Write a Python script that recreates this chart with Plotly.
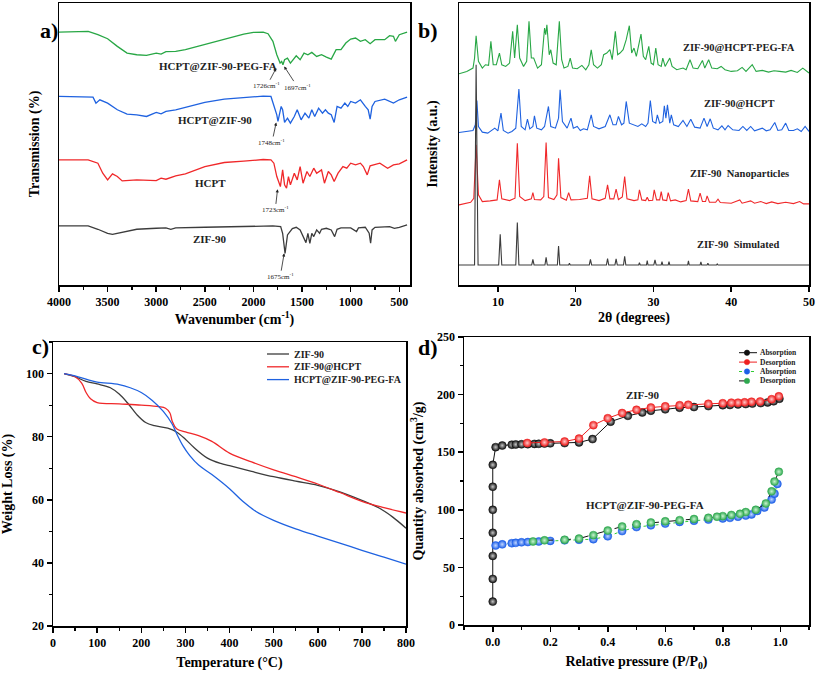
import plotly.graph_objects as go

FONT = "Liberation Serif, Times New Roman, serif"

# ---------------- Panel a: FTIR (wavenumber, stacked transmission a.u.) ----------------
ftir_green_x = [4000, 3700, 3600, 3500, 3400, 3300, 3200, 3100, 3000, 2950, 2900, 2800, 2700, 2500, 2300, 2100,
                2000, 1900, 1850, 1800, 1760, 1726, 1710, 1697, 1680, 1650, 1620, 1600, 1560, 1520, 1480, 1440,
                1400, 1350, 1300, 1250, 1200, 1150, 1100, 1050, 1000, 950, 900, 850, 800, 750, 700, 650, 600,
                560, 540, 500, 420]
ftir_green_y = [75.8, 76.0, 75.0, 73.8, 71.5, 69.5, 69.0, 68.8, 69.5, 69.2, 69.9, 70.0, 70.5, 72.0, 73.7, 75.2,
                75.7, 75.8, 75.3, 73.0, 69.0, 66.5, 67.0, 66.0, 67.5, 68.0, 66.5, 67.3, 68.7, 67.5, 69.5, 69.0,
                69.7, 68.5, 69.0, 68.3, 67.7, 70.5, 70.5, 72.5, 73.7, 74.0, 73.0, 73.5, 72.3, 73.5, 73.5, 73.5,
                74.7, 74.5, 73.0, 75.0, 75.8]
ftir_blue_x = [4000, 3700, 3650, 3620, 3580, 3500, 3400, 3300, 3200, 3100, 3000, 2950, 2900, 2800, 2700, 2500,
               2300, 2100, 1900, 1820, 1790, 1760, 1748, 1730, 1715, 1700, 1680, 1650, 1620, 1580, 1550, 1510,
               1470, 1430, 1400, 1370, 1330, 1290, 1260, 1230, 1200, 1170, 1140, 1100, 1060, 1030, 1000, 950,
               900, 850, 820, 800, 780, 750, 650, 560, 500, 420]
ftir_blue_y = [56.5, 56.5, 56.3, 54.5, 55.5, 54.5, 52.5, 51.2, 51.0, 50.5, 51.7, 51.3, 52.0, 52.5, 53.3, 54.7,
               55.7, 56.2, 56.6, 56.5, 53.5, 51.0, 49.0, 51.5, 53.5, 52.5, 48.7, 50.0, 48.5, 50.5, 52.5, 49.5,
               51.5, 50.0, 52.5, 50.5, 53.0, 51.5, 52.5, 51.5, 51.0, 48.7, 53.5, 53.0, 54.5, 53.5, 55.0, 54.5,
               55.5, 53.5, 52.5, 49.7, 53.5, 55.0, 55.7, 54.5, 55.5, 56.3]
ftir_red_x = [4000, 3700, 3600, 3550, 3500, 3450, 3400, 3350, 3200, 3000, 2950, 2900, 2800, 2700, 2500, 2300,
              2100, 1900, 1820, 1790, 1760, 1740, 1723, 1700, 1680, 1660, 1640, 1620, 1580, 1550, 1520, 1490,
              1450, 1420, 1380, 1350, 1300, 1270, 1230, 1200, 1170, 1130, 1080, 1040, 1000, 950, 900, 870,
              830, 800, 750, 700, 620, 560, 500, 420]
ftir_red_y = [37.5, 37.5, 36.5, 33.5, 31.5, 33.3, 32.5, 31.2, 31.5, 31.3, 32.0, 31.7, 32.7, 33.3, 35.5, 36.7,
              37.1, 37.6, 37.5, 36.5, 32.5, 30.5, 29.5, 34.5, 30.0, 29.0, 32.5, 30.0, 33.5, 31.5, 35.5, 30.5,
              34.0, 32.5, 35.0, 33.5, 34.5, 30.5, 34.0, 33.0, 31.0, 33.5, 35.5, 35.0, 36.5, 36.0, 36.5, 35.5,
              33.0, 35.7, 36.0, 36.5, 35.0, 36.0, 36.3, 37.5]
ftir_black_x = [4000, 3700, 3600, 3500, 3450, 3300, 3200, 3000, 2900, 2850, 2800, 2500, 2000, 1800, 1720, 1700,
                1675, 1650, 1600, 1560, 1520, 1480, 1460, 1440, 1420, 1400, 1380, 1350, 1320, 1300, 1250, 1200,
                1165, 1140, 1100, 1000, 960, 940, 920, 850, 810, 795, 780, 750, 600, 550, 500, 420]
ftir_black_y = [17.7, 17.7, 16.7, 15.5, 15.2, 16.0, 16.7, 17.0, 17.1, 16.7, 17.1, 17.3, 17.6, 17.7, 17.5, 15.5,
                9.5, 15.0, 16.9, 17.3, 16.5, 14.0, 12.7, 15.5, 12.5, 15.5, 14.5, 16.5, 15.5, 16.7, 17.0, 16.5,
                14.5, 16.7, 17.1, 17.1, 16.5, 16.0, 17.1, 17.3, 15.5, 12.5, 16.5, 17.3, 17.5, 17.0, 17.3, 18.0]
ftir_names = ["HCPT@ZIF-90-PEG-FA", "HCPT@ZIF-90", "HCPT", "ZIF-90"]
ftir_label_x = [2360, 2394, 2445, 2452]
ftir_label_y = [65.7, 49.3, 30.5, 13.8]
ftir_peaks = ["1726cm<sup>-1</sup>", "1697cm<sup>-1</sup>", "1748cm<sup>-1</sup>", "1723cm<sup>-1</sup>", "1675cm<sup>-1</sup>"]
ftir_peak_tip_x = [1766, 1684, 1766, 1752, 1684]
ftir_peak_tip_y = [65.0, 65.5, 48.7, 28.7, 9.5]
ftir_peak_txt_x = [1862, 1546, 1810, 1776, 1725]
ftir_peak_txt_y = [59.7, 59.3, 42.7, 22.5, 2.5]
ftir_ticks = [4000, 3500, 3000, 2500, 2000, 1500, 1000, 500]

# ---------------- Panel b: XRD (2theta, stacked intensity) ----------------
xrd_green_x = [5.0, 6.0, 6.8, 7.0, 7.2, 7.5, 8.0, 8.4, 8.8, 9.1, 9.4, 9.8, 10.2, 10.5, 11.0, 11.5, 11.9, 12.15,
               12.5, 12.8, 13.3, 13.7, 14.0, 14.3, 14.6, 15.1, 15.6, 16.0, 16.15, 16.3, 16.6, 16.8, 17.1, 17.5,
               17.9, 18.2, 18.5, 19.0, 19.3, 19.6, 20.2, 20.8, 21.3, 21.7, 22.0, 22.3, 22.8, 23.3, 23.6, 24.0,
               24.4, 24.7, 25.1, 25.4, 25.7, 26.1, 26.5, 26.9, 27.2, 27.5, 27.8, 28.4, 28.7, 29.0, 29.4, 29.7,
               30.0, 30.3, 30.6, 31.0, 31.2, 31.5, 32.1, 32.4, 33.0, 33.8, 34.2, 34.7, 35.1, 35.7, 36.3, 36.6,
               37.1, 37.5, 38.2, 38.7, 39.2, 40.0, 40.8, 41.4, 41.9, 42.7, 43.2, 44.0, 44.8, 45.5, 46.2, 47.0,
               47.7, 48.5, 49.2, 49.6, 50.0]
xrd_green_y = [63.3, 64.0, 65.0, 68.0, 74.7, 67.0, 65.0, 66.0, 65.8, 73.0, 66.0, 66.0, 69.5, 66.0, 65.5, 66.5,
               76.0, 68.0, 78.0, 68.0, 65.5, 67.0, 79.0, 68.0, 68.0, 65.0, 66.0, 77.0, 75.0, 78.0, 69.0, 70.5,
               66.5, 66.0, 79.0, 67.5, 65.0, 65.5, 68.0, 65.0, 64.8, 65.8, 64.5, 66.0, 70.5, 66.0, 65.0, 66.0,
               69.0, 69.5, 70.5, 67.5, 76.0, 69.0, 69.5, 70.5, 73.5, 77.7, 69.5, 71.0, 68.5, 75.2, 68.5, 67.5,
               71.5, 66.5, 66.0, 71.0, 66.0, 65.5, 68.0, 65.5, 68.0, 65.5, 64.5, 65.0, 64.5, 67.5, 65.0, 64.8,
               67.3, 65.0, 67.5, 65.0, 64.8, 65.5, 64.5, 64.0, 64.2, 65.2, 64.0, 66.0, 64.0, 64.3, 63.8, 64.2,
               64.0, 63.8, 64.3, 63.7, 65.0, 64.2, 63.5]
xrd_blue_x = [5.0, 6.0, 6.8, 7.1, 7.3, 7.5, 8.0, 8.7, 9.2, 9.6, 10.0, 10.4, 10.7, 11.3, 11.8, 12.3, 12.7, 13.0,
              13.5, 13.8, 14.1, 14.5, 14.7, 15.0, 15.6, 16.0, 16.5, 16.8, 17.4, 17.8, 18.0, 18.3, 18.9, 19.4,
              19.7, 20.2, 20.6, 21.0, 21.5, 22.0, 22.3, 23.0, 23.8, 24.4, 24.8, 25.2, 25.5, 25.9, 26.2, 26.5,
              26.9, 27.5, 28.0, 28.5, 29.0, 29.3, 29.6, 29.9, 30.3, 30.5, 30.8, 31.2, 31.4, 31.6, 31.8, 32.1,
              32.3, 32.6, 33.2, 33.8, 34.3, 34.8, 35.3, 36.0, 36.5, 36.9, 37.3, 37.7, 38.3, 38.8, 39.2, 39.6,
              40.2, 41.0, 41.5, 42.0, 42.5, 43.0, 44.0, 44.5, 45.0, 45.6, 46.0, 46.5, 47.0, 47.4, 48.0, 48.5,
              49.0, 49.5, 50.0]
xrd_blue_y = [45.7, 46.0, 46.3, 48.0, 55.3, 47.5, 45.8, 45.5, 46.3, 47.0, 46.2, 51.5, 46.3, 45.5, 46.0, 47.0,
              58.7, 47.5, 46.5, 49.7, 46.8, 47.5, 50.7, 47.0, 46.5, 47.5, 53.5, 47.5, 47.0, 50.0, 58.5, 49.0,
              47.0, 50.0, 47.0, 47.5, 46.3, 46.8, 46.5, 51.0, 47.5, 46.8, 47.5, 51.0, 48.0, 48.0, 50.5, 48.0,
              48.5, 55.0, 48.5, 48.0, 47.5, 48.3, 47.5, 48.5, 55.3, 49.0, 48.5, 51.0, 48.5, 49.0, 53.7, 50.0,
              54.0, 48.5, 51.0, 48.0, 47.5, 49.3, 47.5, 49.7, 47.3, 47.0, 50.0, 47.5, 49.8, 47.0, 46.5, 47.7,
              46.5, 47.8, 46.5, 46.3, 47.5, 46.3, 47.5, 46.2, 47.0, 46.2, 46.5, 48.7, 46.3, 46.5, 48.5, 46.3,
              46.3, 46.8, 46.0, 47.5, 46.0]
xrd_red_x = [5.0, 6.5, 6.9, 7.2, 7.5, 8.0, 9.0, 9.9, 10.2, 10.5, 11.5, 12.2, 12.5, 12.8, 13.5, 14.3, 14.5, 14.7,
             15.5, 15.9, 16.2, 16.5, 17.2, 17.6, 17.8, 18.1, 18.8, 19.1, 19.4, 20.5, 21.5, 21.8, 22.1, 23.0,
             23.8, 24.1, 24.4, 24.9, 25.2, 25.5, 26.0, 26.3, 26.6, 27.5, 28.0, 28.2, 28.5, 29.0, 29.2, 29.4,
             29.9, 30.1, 30.4, 30.8, 31.0, 31.2, 31.7, 31.9, 32.2, 32.8, 33.5, 34.2, 34.5, 34.8, 35.7, 36.0,
             36.3, 36.7, 36.9, 37.2, 38.0, 38.3, 38.6, 40.0, 41.1, 41.4, 42.5, 43.0, 43.8, 44.5, 45.2, 46.0,
             47.0, 48.0, 48.8, 49.3, 50.0]
xrd_red_y = [24.0, 24.8, 26.0, 42.0, 27.0, 25.0, 25.2, 25.5, 31.5, 25.8, 25.3, 26.0, 42.5, 26.5, 25.3, 25.8,
             27.7, 25.6, 25.5, 26.5, 42.7, 26.2, 25.6, 27.0, 38.0, 26.2, 25.4, 27.7, 25.5, 25.6, 26.0, 32.7,
             25.8, 25.3, 26.0, 30.0, 25.8, 25.8, 28.7, 25.6, 26.4, 32.5, 25.8, 25.3, 25.5, 28.5, 25.5, 25.3,
             26.3, 25.3, 25.4, 28.5, 25.5, 25.5, 28.0, 25.5, 25.3, 27.7, 25.2, 25.5, 24.9, 25.3, 28.7, 25.2,
             25.0, 27.5, 25.0, 25.0, 26.7, 24.8, 24.8, 25.7, 24.7, 24.5, 25.5, 24.5, 25.2, 24.5, 25.0, 24.4,
             24.9, 24.4, 24.8, 24.4, 25.0, 24.3, 24.3]
xrd_sim_x = [5.0, 7.0, 7.2, 7.45, 10.1, 10.3, 10.5, 12.3, 12.5, 12.7, 14.35, 14.5, 14.65, 16.05, 16.2, 16.35,
             17.65, 17.8, 17.95, 19.1, 19.2, 19.3, 21.75, 21.9, 22.05, 23.95, 24.1, 24.25, 25.05, 25.2, 25.35,
             26.15, 26.3, 26.45, 28.1, 28.2, 28.3, 29.1, 29.2, 29.3, 30.05, 30.2, 30.35, 31.0, 31.1, 31.2,
             31.9, 32.0, 32.1, 34.4, 34.5, 34.6, 36.0, 36.1, 36.2, 36.9, 37.0, 37.1, 38.1, 38.2, 38.3, 50.0]
xrd_sim_y = [6.0, 6.0, 66.0, 6.0, 6.0, 15.2, 6.0, 6.0, 18.7, 6.0, 6.0, 7.7, 6.0, 6.0, 8.3, 6.0,
             6.0, 11.7, 6.0, 6.0, 6.5, 6.0, 6.0, 7.7, 6.0, 6.0, 7.9, 6.0, 6.0, 7.8, 6.0,
             6.0, 8.6, 6.0, 6.0, 6.7, 6.0, 6.0, 7.3, 6.0, 6.0, 7.5, 6.0, 6.0, 7.0, 6.0,
             6.0, 7.0, 6.0, 6.0, 7.2, 6.0, 6.0, 6.9, 6.0, 6.0, 6.5, 6.0, 6.0, 6.3, 6.0, 6.0]
xrd_names = ["ZIF-90@HCPT-PEG-FA", "ZIF-90@HCPT", "ZIF-90  Nanoparticles", "ZIF-90  Simulated"]
xrd_label_x = [41.0, 41.0, 41.0, 40.9]
xrd_label_y = [71.2, 54.4, 33.5, 12.2]

# ---------------- Panel c: TGA ----------------
tga_zif_t = [25, 50, 75, 100, 130, 150, 170, 190, 210, 230, 260, 280, 300, 320, 350, 380, 400, 450, 500, 550,
             600, 650, 700, 740, 770, 800]
tga_zif_w = [100, 99.0, 97.5, 96.7, 95.5, 93.5, 90.5, 87.0, 84.5, 83.5, 82.7, 81.5, 79.2, 76.5, 73.2, 71.5,
             70.8, 69.0, 67.3, 65.9, 64.6, 62.5, 59.8, 57.3, 54.5, 51.0]
tga_hcpt_t = [25, 50, 65, 75, 85, 100, 150, 200, 240, 255, 265, 270, 280, 300, 330, 360, 400, 450, 500, 550,
              600, 650, 700, 750, 800]
tga_hcpt_w = [100, 99.0, 97.0, 94.0, 92.0, 90.8, 90.4, 90.0, 89.5, 89.0, 87.5, 85.0, 82.5, 81.5, 80.3, 78.5,
              74.8, 72.0, 69.5, 67.3, 65.0, 62.3, 59.5, 57.5, 55.8]
tga_peg_t = [25, 50, 80, 100, 150, 175, 200, 225, 250, 270, 280, 295, 310, 330, 360, 400, 430, 460, 500, 550,
             600, 650, 700, 750, 800]
tga_peg_w = [100, 99.3, 98.0, 97.3, 96.5, 95.5, 94.0, 91.5, 88.0, 84.0, 81.0, 77.0, 74.0, 71.0, 68.0, 63.5,
             59.5, 56.3, 53.5, 50.8, 48.5, 46.3, 44.0, 41.8, 39.6]
tga_names = ["ZIF-90", "ZIF-90@HCPT", "HCPT@ZIF-90-PEG-FA"]

# ---------------- Panel d: N2 isotherms ----------------
bet_zif_ads_p = [0.0, 0.0, 0.0, 0.0, 0.0, 0.0, 0.0, 0.01, 0.033, 0.066, 0.08, 0.1, 0.122, 0.145, 0.16, 0.18,
                 0.2, 0.25, 0.3, 0.347, 0.41, 0.47, 0.52, 0.55, 0.6, 0.65, 0.7, 0.75, 0.8, 0.825, 0.853, 0.88,
                 0.903, 0.932, 0.956, 0.977, 0.997]
bet_zif_ads_q = [20.3, 40.0, 60.0, 80.0, 100.0, 120.0, 139.0, 154.4, 155.8, 156.5, 156.7, 156.9, 157.0, 157.2,
                 157.3, 157.5, 157.7, 157.9, 158.5, 161.4, 176.5, 181.6, 184.5, 186.0, 187.2, 188.6, 189.2,
                 190.0, 190.8, 191.0, 191.5, 191.8, 192.2, 192.6, 193.2, 194.2, 196.4]
bet_zif_des_p = [0.995, 0.97, 0.93, 0.9, 0.876, 0.853, 0.83, 0.8, 0.75, 0.68, 0.65, 0.6, 0.55, 0.5, 0.45, 0.4,
                 0.35, 0.3, 0.25, 0.18, 0.12]
bet_zif_des_q = [198.5, 196.0, 194.0, 193.8, 193.3, 193.0, 193.0, 192.5, 192.0, 191.2, 190.8, 189.8, 188.8,
                 186.8, 184.0, 179.5, 173.5, 161.8, 159.3, 158.5, 158.0]
bet_peg_ads_p = [0.01, 0.033, 0.066, 0.08, 0.1, 0.122, 0.16, 0.2, 0.25, 0.3, 0.35, 0.4, 0.45, 0.5, 0.55, 0.6,
                 0.65, 0.7, 0.75, 0.8, 0.825, 0.853, 0.88, 0.9, 0.92, 0.945, 0.97, 0.98, 0.99]
bet_peg_ads_q = [69.0, 70.0, 71.0, 71.3, 71.8, 72.0, 72.5, 73.0, 73.5, 74.0, 74.5, 77.0, 81.5, 85.0, 86.5,
                 88.0, 89.5, 90.5, 91.5, 92.5, 93.0, 94.0, 95.0, 96.0, 99.0, 102.0, 109.0, 114.0, 122.5]
bet_peg_des_p = [0.995, 0.98, 0.97, 0.95, 0.915, 0.88, 0.86, 0.83, 0.8, 0.78, 0.75, 0.7, 0.65, 0.6, 0.55, 0.5,
                 0.45, 0.4, 0.35, 0.3, 0.25, 0.18, 0.14]
bet_peg_des_q = [133.0, 124.5, 116.0, 105.5, 100.0, 98.0, 96.5, 95.5, 94.5, 94.0, 93.0, 92.0, 91.0, 90.0,
                 89.0, 87.5, 85.5, 82.0, 78.0, 75.0, 74.0, 73.5, 72.5]
bet_names = ["Absorption", "Desorption", "Absorption", "Desorption"]
bet_labels = ["ZIF-90", "HCPT@ZIF-90-PEG-FA"]
bet_label_p = [0.524, 0.53]
bet_label_q = [200, 104]

# ---------------- colours ----------------
C_GRAY = "#3c3c3c"
C_RED = "#f0282a"
C_BLUE = "#1f62e0"
C_GREEN = "#28a745"

fig = go.Figure()

# Panel a
for xs, ys, c in [(ftir_green_x, ftir_green_y, C_GREEN), (ftir_blue_x, ftir_blue_y, C_BLUE),
                  (ftir_red_x, ftir_red_y, C_RED), (ftir_black_x, ftir_black_y, C_GRAY)]:
    fig.add_trace(go.Scatter(x=xs, y=ys, mode="lines", line=dict(color=c, width=1.3),
                             showlegend=False, xaxis="x", yaxis="y"))
# Panel b
for xs, ys, c in [(xrd_green_x, xrd_green_y, C_GREEN), (xrd_blue_x, xrd_blue_y, C_BLUE),
                  (xrd_red_x, xrd_red_y, C_RED), (xrd_sim_x, xrd_sim_y, C_GRAY)]:
    fig.add_trace(go.Scatter(x=xs, y=ys, mode="lines", line=dict(color=c, width=1.1),
                             showlegend=False, xaxis="x2", yaxis="y2"))
# Panel c
tga_colors = [C_GRAY, C_RED, C_BLUE]
for xs, ys, c in zip([tga_zif_t, tga_hcpt_t, tga_peg_t], [tga_zif_w, tga_hcpt_w, tga_peg_w], tga_colors):
    fig.add_trace(go.Scatter(x=xs, y=ys, mode="lines", line=dict(color=c, width=1.3, shape="spline"),
                             showlegend=False, xaxis="x3", yaxis="y3"))
# Panel d
bet_marker = ["#111111", "#ee2020", "#1d5fe8", "#2fa84f"]
bet_grad = ["#c8c8c8", "#ffc8c8", "#c0d6ff", "#c8f4d0"]
bet_line = ["#111111", "#ee2020", "#33cc33", "#111111"]
bet_dash = ["solid", "solid", "dot", "dash"]
for xs, ys, mc, gc, lc, dash in zip([bet_zif_ads_p, bet_zif_des_p, bet_peg_ads_p, bet_peg_des_p],
                                    [bet_zif_ads_q, bet_zif_des_q, bet_peg_ads_q, bet_peg_des_q],
                                    bet_marker, bet_grad, bet_line, bet_dash):
    fig.add_trace(go.Scatter(x=xs, y=ys, mode="lines+markers",
                             line=dict(color=lc, width=1, dash=dash),
                             marker=dict(color=mc, size=8, line=dict(color=mc, width=0.5),
                                         gradient=dict(type="radial", color=gc)),
                             showlegend=False, xaxis="x4", yaxis="y4"))

tf = dict(family=FONT, size=12, color="black", weight="bold")
ttl = dict(family=FONT, size=14, color="black", weight="bold")
ax_common = dict(showline=True, mirror=True, linecolor="black", linewidth=1.5, showgrid=False,
                 zeroline=False, tickfont=tf, tickcolor="black", tickwidth=1.5, ticklen=5,
                 automargin=False)
minor = dict(ticks="outside", ticklen=3, tickwidth=1.2, tickcolor="black")

annotations = []
shapes = []
for t, x, y in zip(ftir_names, ftir_label_x, ftir_label_y):
    annotations.append(dict(text=t, x=x, y=y, xref="x", yref="y", showarrow=False,
                            font=dict(family=FONT, size=11, color="#222", weight="bold")))
for t, tx, ty, hx, hy in zip(ftir_peaks, ftir_peak_txt_x, ftir_peak_txt_y, ftir_peak_tip_x, ftir_peak_tip_y):
    annotations.append(dict(text=t, x=hx, y=hy, ax=tx, ay=ty, xref="x", yref="y", axref="x", ayref="y",
                            showarrow=True, arrowhead=2, arrowsize=0.8, arrowwidth=0.8, arrowcolor="#222",
                            font=dict(family=FONT, size=7, color="#222")))
for t, x, y in zip(xrd_names, xrd_label_x, xrd_label_y):
    annotations.append(dict(text=t, x=x, y=y, xref="x2", yref="y2", showarrow=False,
                            font=dict(family=FONT, size=10.5, color="#222", weight="bold")))
for t, x, y in zip(bet_labels, bet_label_p, bet_label_q):
    annotations.append(dict(text=t, x=x, y=y, xref="x4", yref="y4", showarrow=False,
                            font=dict(family=FONT, size=11, color="#222", weight="bold")))
for t, x, y in [("a)", 38, 16), ("b)", 428, 16), ("c)", 30, 347), ("d)", 428, 348)]:
    annotations.append(dict(text=t, x=x / 817, y=1 - y / 674, xref="paper", yref="paper", showarrow=False,
                            font=dict(family=FONT, size=22, color="black", weight="bold")))

# legend of panel c (drawn with shapes + text)
for i, (n, c) in enumerate(zip(tga_names, tga_colors)):
    yy = 1 - (354 + 12.8 * i) / 674
    shapes.append(dict(type="line", xref="paper", yref="paper", x0=267 / 817, x1=289 / 817, y0=yy, y1=yy,
                       line=dict(color=c, width=1.3)))
    annotations.append(dict(text=n, x=292 / 817, y=yy, xref="paper", yref="paper", xanchor="left",
                            yanchor="middle", showarrow=False,
                            font=dict(family=FONT, size=10, color="#222", weight="bold")))
# legend of panel d
for i, (n, mc, lc, dash) in enumerate(zip(bet_names, bet_marker, bet_line, bet_dash)):
    yy = 1 - (352.7 + 9.4 * i) / 674
    shapes.append(dict(type="line", xref="paper", yref="paper", x0=739 / 817, x1=757 / 817, y0=yy, y1=yy,
                       line=dict(color=lc, width=1, dash=dash)))
    shapes.append(dict(type="circle", xref="paper", yref="paper", x0=744.3 / 817, x1=749.7 / 817,
                       y0=yy - 2.7 / 674, y1=yy + 2.7 / 674, fillcolor=mc, line=dict(color=mc, width=0.5)))
    annotations.append(dict(text=n, x=757.5 / 817, y=yy, xref="paper", yref="paper", xanchor="left",
                            yanchor="middle", showarrow=False,
                            font=dict(family=FONT, size=7.5, color="#222", weight="bold")))

fig.update_layout(
    template="none",
    width=817, height=674, margin=dict(l=0, r=0, t=0, b=0, autoexpand=False),
    paper_bgcolor="white", plot_bgcolor="white",
    font=dict(family=FONT, color="black"),
    showlegend=False,
    xaxis=dict(ax_common, domain=[59 / 817, 410 / 817], anchor="y", range=[4000, 390],
               tickvals=ftir_ticks, ticks="outside", minor=dict(minor, dtick=250),
               title=dict(text="Wavenumber (cm<sup>-1</sup>)", font=ttl, standoff=4)),
    yaxis=dict(ax_common, domain=[1 - 285 / 674, 1 - 3 / 674], anchor="x", range=[0, 84.5],
               showticklabels=False, ticks="",
               title=dict(text="Transmission (%)", font=ttl, standoff=14)),
    xaxis2=dict(ax_common, domain=[459 / 817, 809 / 817], anchor="y2", range=[5, 50],
                tick0=0, dtick=10, ticks="outside",
                title=dict(text="2θ (degrees)", font=ttl, standoff=4)),
    yaxis2=dict(ax_common, domain=[1 - 285 / 674, 1 - 3 / 674], anchor="x2", range=[0, 84.5],
                showticklabels=False, ticks="",
                title=dict(text="Intensity (a.u.)", font=ttl, standoff=16)),
    xaxis3=dict(ax_common, domain=[53 / 817, 406 / 817], anchor="y3", range=[0, 800],
                tick0=0, dtick=100, ticks="outside", minor=dict(minor, dtick=50),
                title=dict(text="Temperature (°C)", font=ttl, standoff=8)),
    yaxis3=dict(ax_common, domain=[1 - 626 / 674, 1 - 342 / 674], anchor="x3", range=[20, 110],
                tickvals=[20, 40, 60, 80, 100], ticks="outside", minor=dict(minor, dtick=10),
                title=dict(text="Weight Loss (%)", font=ttl, standoff=10)),
    xaxis4=dict(ax_common, domain=[464 / 817, 809 / 817], anchor="y4", range=[-0.1, 1.1],
                tick0=0, dtick=0.2, tickformat=".1f", ticks="outside", minor=dict(minor, dtick=0.1),
                title=dict(text="Relative pressure (P/P<sub>0</sub>)", font=ttl, standoff=8)),
    yaxis4=dict(ax_common, domain=[1 - 625 / 674, 1 - 337 / 674], anchor="x4", range=[0, 250],
                tick0=0, dtick=50, ticks="outside", minor=dict(minor, dtick=25),
                title=dict(text="Quantity absorbed (cm<sup>3</sup>/g)", font=ttl, standoff=10)),
    annotations=annotations,
    shapes=shapes,
)

fig.write_html("out.html", config={"displayModeBar": False, "staticPlot": True},
               post_script="document.body.style.margin='0';")
